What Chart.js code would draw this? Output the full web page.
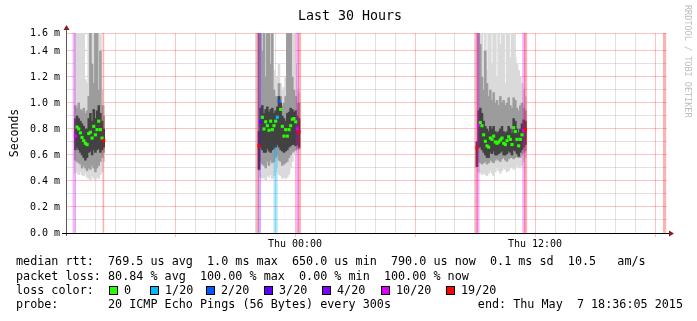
<!DOCTYPE html>
<html>
<head>
<meta charset="utf-8">
<title>Last 30 Hours</title>
<script src="https://cdn.jsdelivr.net/npm/chart.js@4/dist/chart.umd.min.js"></script>
<style>
  html, body { margin: 0; padding: 0; background: #fff; }
  #wrap { position: relative; width: 697px; height: 321px; overflow: hidden;
          font-family: 'DejaVu Sans Mono', monospace; color: #000; }
  #chart { position: absolute; left: 0; top: 0; }
  .txt { position: absolute; white-space: pre; font-size: 11.75px; line-height: 14px; }
  #title { position: absolute; left: 0; width: 700px; top: 8px; text-align: center;
           font-size: 13.3px; line-height: 16px; white-space: pre; }
  #credit { position: absolute; left: 683px; top: 5px; writing-mode: vertical-rl;
            font-size: 8.5px; color: #bdbdbd; white-space: pre; }
  .sq { position: absolute; width: 9px; height: 9px; box-sizing: border-box; border: 1px solid #000; }
</style>
</head>
<body>
<div id="wrap">
  <canvas id="chart" width="697" height="321"></canvas>
  <div id="title">Last 30 Hours</div>
  <div id="credit">RRDTOOL / TOBI OETIKER</div>
  <div id="legend"></div>
</div>
<script>
// SmokePing style latency graph, 30 hours ending Thu May 7 18:36:05 2015
// x axis is hours since the start of the window (Wed 12:36), y in milliseconds

const STEP = 1 / 12; // one ping round every 300 s
const Y_MAX = 1.538;

// loss colours (pings lost out of 20)
const LOSS_LEVELS = [0, 1, 2, 3, 4, 10, 19];
const LOSS_COLORS = ['#26ff00', '#00b8ff', '#0059ff', '#5e00ff', '#7e00ff', '#dd00ff', '#ff0000'];
const LOSS_LABELS = ['0', '1/20', '2/20', '3/20', '4/20', '10/20', '19/20'];

// axis ticks
const yMajorTicks = [0, 0.2, 0.4, 0.6, 0.8, 1.0, 1.2, 1.4];
const yMinorTicks = [0.1, 0.3, 0.5, 0.7, 0.9, 1.1, 1.3];
const yTopLabel = '1.6 m';
const xMajorHours = [5.4, 11.4, 17.4, 23.4, 29.4];
const xLabelHours = [11.4, 23.4];
const xLabelTexts = ['Thu 00:00', 'Thu 12:00'];

// segment 1
const seg1Start = 0.42;
const seg1Median = [0.745, 0.815, 0.80, 0.77, 0.735, 0.71, 0.69, 0.68, 0.765, 0.775, 0.73, 0.82, 0.755, 0.795, 0.86, 0.795, 0.73, 0.71];
const seg1Loss   = [10, 0, 0, 0, 0, 0, 0, 0, 0, 0, 0, 0, 0, 0, 0, 0, 0, 19];
const seg1Max    = [1.54, 1.54, 1.54, 1.54, 1.54, 1.54, 1.18, 1.15, 1.54, 1.54, 1.54, 1.54, 1.54, 1.54, 1.54, 1.54, 1.10, 0.98];
const seg1Min    = [0.46, 0.47, 0.45, 0.47, 0.45, 0.44, 0.46, 0.43, 0.42, 0.41, 0.44, 0.42, 0.41, 0.43, 0.42, 0.45, 0.47, 0.55];
const seg1MidHi  = [0.98, 0.96, 1.00, 0.95, 0.94, 0.96, 0.92, 0.94, 1.05, 1.54, 1.30, 1.15, 1.54, 1.54, 1.10, 1.40, 0.98, 0.90];
const seg1MidLo  = [0.56, 0.55, 0.54, 0.53, 0.50, 0.52, 0.50, 0.48, 0.50, 0.49, 0.52, 0.50, 0.47, 0.50, 0.52, 0.55, 0.58, 0.62];
const seg1CoreHi = [0.88, 0.90, 0.88, 0.86, 0.84, 0.82, 0.80, 0.80, 0.88, 0.92, 0.86, 0.95, 0.88, 0.94, 0.98, 0.92, 0.86, 0.80];
const seg1CoreLo = [0.64, 0.66, 0.64, 0.62, 0.60, 0.58, 0.56, 0.58, 0.62, 0.63, 0.60, 0.64, 0.62, 0.64, 0.65, 0.62, 0.64, 0.66];

// segment 2
const seg2Start = 9.6;
const seg2Median = [0.67, 0.855, 0.89, 0.80, 0.855, 0.825, 0.79, 0.86, 0.795, 0.825, 0.86, 0.89, 1.015, 0.95, 0.82, 0.745, 0.795, 0.745, 0.795, 0.825, 0.875, 0.88, 0.855, 0.80, 0.78];
const seg2Loss   = [19, 3, 0, 0, 0, 0, 0, 0, 0, 0, 0, 1, 2, 0, 0, 0, 0, 0, 0, 0, 0, 0, 0, 10, 19];
const seg2Max    = [1.54, 1.54, 1.54, 1.54, 1.54, 1.54, 1.54, 1.54, 1.54, 1.25, 1.18, 1.20, 1.30, 1.15, 1.10, 1.12, 1.20, 1.54, 1.54, 1.54, 1.54, 1.54, 1.30, 1.10, 1.08];
const seg2Min    = [0.48, 0.43, 0.42, 0.43, 0.41, 0.44, 0.43, 0.45, 0.42, 0.44, 0.47, 0.50, 0.45, 0.44, 0.42, 0.43, 0.42, 0.43, 0.45, 0.50, 0.55, 0.60, 0.62, 0.64, 0.64];
const seg2MidHi  = [1.54, 1.54, 1.40, 1.54, 1.20, 1.54, 1.54, 1.30, 1.54, 1.10, 1.05, 1.05, 1.15, 1.05, 0.98, 1.00, 1.05, 1.54, 1.54, 1.54, 1.20, 1.10, 1.05, 1.00, 1.00];
const seg2MidLo  = [0.49, 0.55, 0.53, 0.52, 0.50, 0.55, 0.52, 0.56, 0.54, 0.55, 0.58, 0.60, 0.56, 0.55, 0.52, 0.53, 0.54, 0.55, 0.58, 0.60, 0.62, 0.63, 0.64, 0.65, 0.65];
const seg2CoreHi = [0.78, 0.96, 0.98, 0.92, 0.95, 0.97, 0.93, 0.95, 0.96, 0.92, 0.94, 0.97, 1.05, 1.00, 0.90, 0.88, 0.86, 0.92, 0.93, 0.96, 0.95, 0.93, 0.94, 0.90, 0.88];
const seg2CoreLo = [0.49, 0.66, 0.64, 0.62, 0.62, 0.65, 0.63, 0.62, 0.64, 0.65, 0.66, 0.68, 0.66, 0.64, 0.63, 0.62, 0.63, 0.64, 0.66, 0.67, 0.68, 0.68, 0.67, 0.68, 0.66];

// segment 3
const seg3Start = 20.5;
const seg3Median = [0.655, 0.83, 0.85, 0.825, 0.755, 0.705, 0.67, 0.66, 0.73, 0.72, 0.745, 0.70, 0.69, 0.70, 0.715, 0.73, 0.69, 0.68, 0.71, 0.74, 0.72, 0.68, 0.81, 0.78, 0.72, 0.67, 0.72, 0.755, 0.79, 0.795];
const seg3Loss   = [19, 10, 0, 0, 0, 0, 0, 0, 0, 0, 0, 0, 0, 0, 0, 0, 0, 0, 0, 0, 0, 0, 0, 0, 0, 0, 0, 0, 10, 19];
const seg3Max    = [0.70, 1.54, 1.54, 1.54, 1.40, 1.54, 1.25, 1.54, 1.54, 1.30, 1.54, 1.54, 1.20, 1.54, 1.45, 1.54, 1.54, 1.15, 1.54, 1.54, 1.35, 1.54, 1.54, 1.35, 1.30, 1.25, 1.20, 1.15, 1.10, 1.05];
const seg3Min    = [0.51, 0.47, 0.46, 0.45, 0.46, 0.45, 0.44, 0.46, 0.48, 0.46, 0.44, 0.47, 0.50, 0.48, 0.46, 0.48, 0.50, 0.49, 0.47, 0.48, 0.50, 0.51, 0.49, 0.50, 0.52, 0.51, 0.50, 0.52, 0.55, 0.58];
const seg3MidHi  = [0.70, 1.54, 1.45, 1.20, 1.10, 1.40, 1.15, 1.05, 1.10, 1.02, 1.08, 1.00, 1.02, 0.98, 1.05, 1.00, 1.02, 0.98, 1.00, 1.04, 0.98, 0.96, 1.04, 1.02, 0.96, 0.94, 0.98, 1.00, 0.96, 0.94];
const seg3MidLo  = [0.51, 0.55, 0.54, 0.53, 0.54, 0.55, 0.53, 0.54, 0.56, 0.55, 0.54, 0.56, 0.57, 0.56, 0.55, 0.57, 0.58, 0.56, 0.55, 0.57, 0.58, 0.58, 0.57, 0.58, 0.59, 0.58, 0.58, 0.60, 0.62, 0.63];
const seg3CoreHi = [0.70, 0.94, 0.96, 0.92, 0.86, 0.82, 0.80, 0.78, 0.82, 0.80, 0.82, 0.78, 0.77, 0.78, 0.80, 0.82, 0.78, 0.77, 0.78, 0.82, 0.80, 0.77, 0.88, 0.86, 0.80, 0.77, 0.80, 0.84, 0.87, 0.86];
const seg3CoreLo = [0.51, 0.66, 0.66, 0.64, 0.62, 0.60, 0.58, 0.58, 0.62, 0.61, 0.63, 0.60, 0.60, 0.61, 0.62, 0.63, 0.60, 0.60, 0.61, 0.63, 0.62, 0.60, 0.64, 0.63, 0.61, 0.59, 0.62, 0.64, 0.66, 0.68];

// full height loss markers
const lossBarHours  = [0.36, 9.52, 9.62, 11.52, 11.62, 20.47, 20.55, 22.84, 22.93, 29.88];
const lossBarLevels = [10, 19, 3, 10, 19, 19, 10, 10, 19, 19];
const lossLineHours  = [1.82];
const lossLineLevels = [19];
// partial loss marker below the smoke
const lossLowHours  = [10.43];
const lossLowLevels = [1];
const lossLowTops   = [0.66];

const segments = [
    { start: seg1Start, median: seg1Median, loss: seg1Loss, max: seg1Max, min: seg1Min, midHi: seg1MidHi, midLo: seg1MidLo, coreHi: seg1CoreHi, coreLo: seg1CoreLo },
    { start: seg2Start, median: seg2Median, loss: seg2Loss, max: seg2Max, min: seg2Min, midHi: seg2MidHi, midLo: seg2MidLo, coreHi: seg2CoreHi, coreLo: seg2CoreLo },
    { start: seg3Start, median: seg3Median, loss: seg3Loss, max: seg3Max, min: seg3Min, midHi: seg3MidHi, midLo: seg3MidLo, coreHi: seg3CoreHi, coreLo: seg3CoreLo }
];

function lossColor(level, alpha) {
    const hex = LOSS_COLORS[LOSS_LEVELS.indexOf(level)];
    if (alpha === undefined) return hex;
    const r = parseInt(hex.slice(1, 3), 16), g = parseInt(hex.slice(3, 5), 16), b = parseInt(hex.slice(5, 7), 16);
    return `rgba(${r}, ${g}, ${b}, ${alpha})`;
}

function band(loKey, hiKey) {
    const out = [];
    segments.forEach(s => {
        s[loKey].forEach((lo, i) => out.push({ x: s.start + i * STEP, y: [lo, s[hiKey][i]] }));
    });
    return out;
}

const medianPoints = [];
const medianColors = [];
segments.forEach(s => {
    s.median.forEach((v, i) => {
        medianPoints.push({ x: s.start + i * STEP, y: v });
        medianColors.push(lossColor(s.loss[i]));
    });
});

const isNear = (a, b) => Math.abs(a - b) < 1e-6;
const isYMajor = v => yMajorTicks.some(t => isNear(t, v)) || isNear(v, Y_MAX);
const isXMajor = v => xMajorHours.some(t => isNear(t, v));

const MAJOR_GRID = 'rgba(255, 0, 0, 0.24)';
const MINOR_GRID = 'rgba(140, 140, 140, 0.26)';
const FONT = "'DejaVu Sans Mono', monospace";

const barBase = { type: 'bar', stack: 'smoke', borderWidth: 0, borderSkipped: false };

// axis lines with the little rrdtool arrows
const axisArrows = {
    id: 'axisArrows',
    afterDraw(chart) {
        const { ctx, chartArea: a } = chart;
        ctx.save();
        ctx.lineWidth = 1;
        ctx.strokeStyle = '#5a5a5a';
        ctx.beginPath();
        ctx.moveTo(a.left - 0.5, a.bottom + 3);
        ctx.lineTo(a.left - 0.5, a.top - 5);
        ctx.stroke();
        ctx.strokeStyle = '#000';
        ctx.beginPath();
        ctx.moveTo(a.left - 5, a.bottom + 0.5);
        ctx.lineTo(a.right + 3, a.bottom + 0.5);
        ctx.stroke();
        ctx.fillStyle = '#8b1c1c';
        ctx.beginPath();
        ctx.moveTo(a.left - 3.5, a.top - 3);
        ctx.lineTo(a.left + 2.5, a.top - 3);
        ctx.lineTo(a.left - 0.5, a.top - 8);
        ctx.closePath();
        ctx.fill();
        ctx.beginPath();
        ctx.moveTo(a.right + 2, a.bottom - 2.5);
        ctx.lineTo(a.right + 2, a.bottom + 3.5);
        ctx.lineTo(a.right + 7, a.bottom + 0.5);
        ctx.closePath();
        ctx.fill();
        ctx.restore();
    }
};

new Chart(document.getElementById('chart'), {
    type: 'bar',
    data: {
        datasets: [{
            type: 'line',
            label: 'median rtt',
            data: medianPoints,
            showLine: false,
            pointStyle: 'rect',
            pointRadius: 2.2,
            pointBorderWidth: 0,
            pointBackgroundColor: medianColors
        }, {
            ...barBase,
            label: 'loss',
            data: lossBarHours.map(h => ({ x: h, y: [0, Y_MAX] })),
            backgroundColor: lossBarLevels.map(l => lossColor(l, 0.3)),
            barThickness: 2.5
        }, {
            ...barBase,
            label: 'loss low',
            data: lossLowHours.map((h, i) => ({ x: h, y: [0, lossLowTops[i]] })),
            backgroundColor: lossLowLevels.map(l => lossColor(l, 0.33)),
            barThickness: 3.5
        }, {
            ...barBase,
            label: 'loss edge',
            data: lossLineHours.map(h => ({ x: h, y: [0, Y_MAX] })),
            backgroundColor: lossLineLevels.map(l => lossColor(l, 0.3)),
            barThickness: 1
        }, {
            ...barBase,
            label: 'smoke core',
            data: band('coreLo', 'coreHi'),
            backgroundColor: '#424242',
            barThickness: 1.9
        }, {
            ...barBase,
            label: 'smoke mid',
            data: band('midLo', 'midHi'),
            backgroundColor: '#9c9c9c',
            barThickness: 1.9
        }, {
            ...barBase,
            label: 'smoke outer',
            data: band('min', 'max'),
            backgroundColor: '#dadada',
            barThickness: 1.9
        }]
    },
    options: {
        responsive: false,
        animation: false,
        events: [],
        layout: { padding: { left: 0, right: 30, top: 33, bottom: 68 } },
        plugins: {
            legend: { display: false },
            tooltip: { enabled: false }
        },
        scales: {
            x: {
                type: 'linear',
                min: 0,
                max: 30,
                stacked: true,
                offset: false,
                z: 1,
                border: { display: false },
                grid: {
                    offset: false,
                    drawTicks: true,
                    tickLength: 4,
                    color: ctx => isXMajor(ctx.tick.value) ? MAJOR_GRID : MINOR_GRID,
                    tickColor: ctx => isXMajor(ctx.tick.value) ? MAJOR_GRID : 'rgba(0,0,0,0)'
                },
                afterBuildTicks: scale => {
                    const ticks = [];
                    for (let k = 0; k < 30; k++) ticks.push({ value: Math.round((0.4 + k) * 10) / 10 });
                    scale.ticks = ticks;
                },
                afterFit: scale => { scale.height = 20; },
                ticks: {
                    autoSkip: false,
                    maxRotation: 0,
                    padding: 1,
                    color: '#000',
                    font: { family: FONT, size: 10 },
                    callback: v => {
                        const i = xLabelHours.findIndex(h => isNear(h, v));
                        return i >= 0 ? xLabelTexts[i] : '';
                    }
                }
            },
            y: {
                min: 0,
                max: Y_MAX,
                stacked: false,
                z: 1,
                border: { display: false },
                title: {
                    display: true,
                    text: 'Seconds',
                    color: '#000',
                    font: { family: FONT, size: 11.5 },
                    padding: { top: 8, bottom: 0 }
                },
                grid: {
                    drawTicks: false,
                    color: ctx => isYMajor(ctx.tick.value) ? MAJOR_GRID : MINOR_GRID
                },
                afterBuildTicks: scale => {
                    const vals = yMajorTicks.concat(yMinorTicks, [Y_MAX]).sort((a, b) => a - b);
                    scale.ticks = vals.map(v => ({ value: v }));
                },
                afterFit: scale => { scale.width = 67; },
                ticks: {
                    autoSkip: false,
                    padding: 7,
                    color: '#000',
                    font: { family: FONT, size: 10 },
                    callback: v => {
                        if (isNear(v, Y_MAX)) return yTopLabel;
                        if (yMajorTicks.some(t => isNear(t, v))) return v.toFixed(1) + ' m';
                        return '';
                    }
                }
            }
        }
    },
    plugins: [axisArrows]
});

// legend block below the graph, rrdtool style
const legend = document.getElementById('legend');
function addText(text, left, top, right) {
    const d = document.createElement('div');
    d.className = 'txt';
    d.textContent = text;
    d.style.top = top + 'px';
    if (right !== undefined) d.style.right = right + 'px';
    else d.style.left = left + 'px';
    legend.appendChild(d);
}

addText('median rtt:', 16, 254);
addText('769.5 us avg  1.0 ms max  650.0 us min  790.0 us now  0.1 ms sd  10.5   am/s', 108, 254);
addText('packet loss:', 16, 269);
addText('80.84 % avg  100.00 % max  0.00 % min  100.00 % now', 108, 269);
addText('loss color:', 16, 283);
const squareX = [109, 150, 206, 264, 322, 381, 446];
LOSS_LABELS.forEach((lab, i) => {
    const sq = document.createElement('div');
    sq.className = 'sq';
    sq.style.left = squareX[i] + 'px';
    sq.style.top = '286px';
    sq.style.background = LOSS_COLORS[i];
    legend.appendChild(sq);
    addText(lab, squareX[i] + 15, 283);
});
addText('probe:', 16, 297);
addText('20 ICMP Echo Pings (56 Bytes) every 300s', 108, 297);
addText('end: Thu May  7 18:36:05 2015', 0, 297, 14);
</script>
</body>
</html>
